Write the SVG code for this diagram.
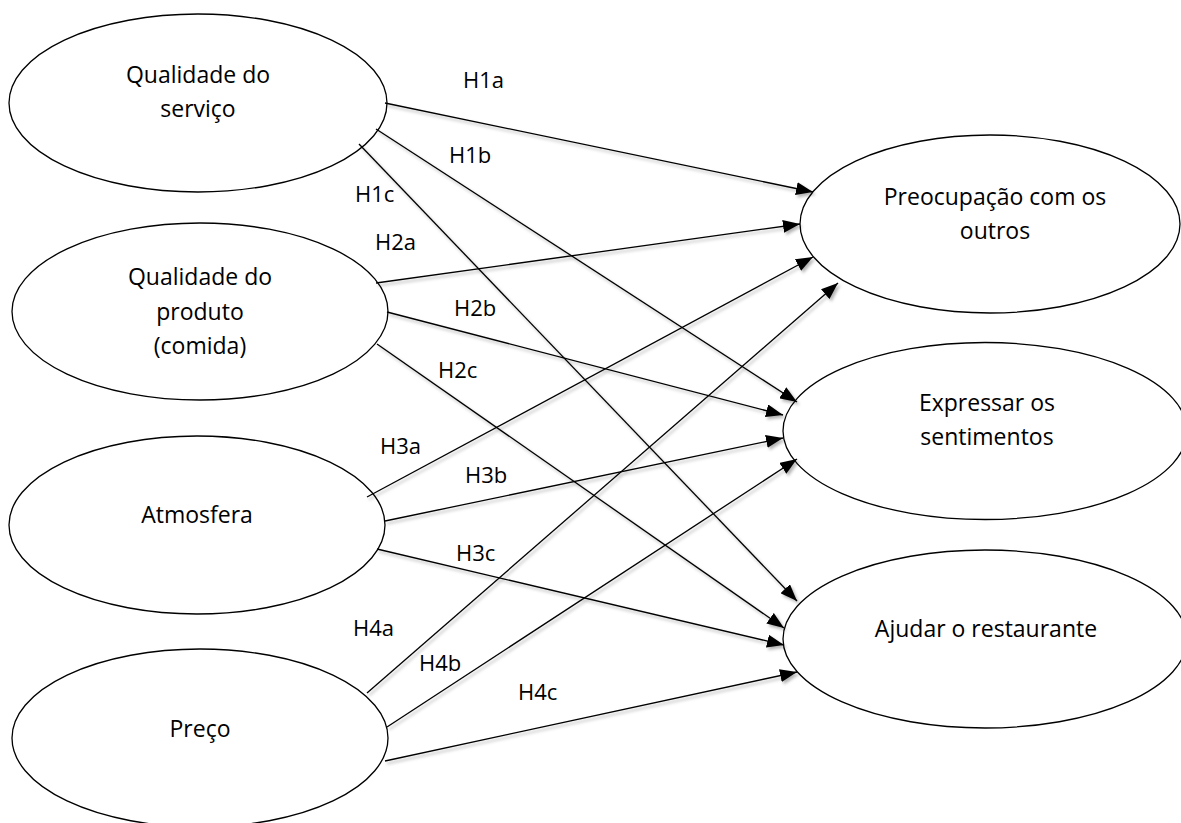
<svg xmlns="http://www.w3.org/2000/svg" width="1181" height="823" viewBox="0 0 1181 823">
<defs>
<marker id="arr" viewBox="0 0 17 13" refX="17" refY="6.5" markerWidth="17" markerHeight="13" markerUnits="userSpaceOnUse" orient="auto">
<path d="M0,0 L17,6.5 L0,13 z" fill="#000"/>
</marker>
<filter id="sh" x="-5%" y="-5%" width="110%" height="110%">
<feDropShadow dx="2" dy="2.5" stdDeviation="1.5" flood-color="#000" flood-opacity="0.3"/>
</filter>
</defs>
<style>
.n ellipse{fill:#fff;stroke:#000;stroke-width:1.3}
.t{font-family:"Open Sans","Liberation Sans",sans-serif;font-size:23px;fill:#000;text-anchor:middle}
.l{font-family:"Open Sans","Liberation Sans",sans-serif;font-size:22px;fill:#000}
.c line{stroke:#000;stroke-width:1.3;marker-end:url(#arr)}
</style>
<rect width="1181" height="823" fill="#fff"/>
<g id="n1" class="n"><ellipse cx="198" cy="103" rx="189" ry="89"/><text class="t" x="198" y="83">Qualidade do</text><text class="t" x="198" y="117">serviço</text></g>
<g id="n2" class="n"><ellipse cx="200" cy="311.5" rx="188" ry="88.5"/><text class="t" x="200" y="285">Qualidade do</text><text class="t" x="200" y="320">produto</text><text class="t" x="200" y="354">(comida)</text></g>
<g id="n3" class="n"><ellipse cx="197" cy="525" rx="188" ry="89"/><text class="t" x="197" y="523">Atmosfera</text></g>
<g id="n4" class="n"><ellipse cx="200" cy="738" rx="188" ry="89"/><text class="t" x="200" y="737">Preço</text></g>
<g id="n5" class="n"><ellipse cx="990" cy="224" rx="190" ry="89"/><text class="t" x="995" y="205">Preocupação com os</text><text class="t" x="995" y="239">outros</text></g>
<g id="n6" class="n"><ellipse cx="985" cy="431" rx="202" ry="88.5"/><text class="t" x="987" y="411">Expressar os</text><text class="t" x="987" y="445">sentimentos</text></g>
<g id="n7" class="n"><ellipse cx="985" cy="639" rx="202" ry="89"/><text class="t" x="986" y="637">Ajudar o restaurante</text></g>
<g id="connectors" class="c" filter="url(#sh)">
<line x1="385" y1="103" x2="813" y2="192"/>
<line x1="376" y1="129" x2="797" y2="402"/>
<line x1="359" y1="144" x2="797" y2="601"/>
<line x1="376" y1="283" x2="800" y2="224"/>
<line x1="387" y1="312" x2="783" y2="415"/>
<line x1="377" y1="344" x2="784" y2="628"/>
<line x1="367" y1="497" x2="813" y2="257"/>
<line x1="385" y1="521" x2="783" y2="438"/>
<line x1="377" y1="549" x2="784" y2="645"/>
<line x1="367" y1="693" x2="838" y2="283"/>
<line x1="387" y1="727" x2="797" y2="459"/>
<line x1="385" y1="761" x2="797" y2="672"/>
</g>
<g id="labels">
<text class="l" x="463" y="88">H1a</text>
<text class="l" x="449" y="163">H1b</text>
<text class="l" x="355" y="202">H1c</text>
<text class="l" x="375" y="250">H2a</text>
<text class="l" x="454" y="316">H2b</text>
<text class="l" x="438" y="378">H2c</text>
<text class="l" x="380" y="454">H3a</text>
<text class="l" x="465" y="483">H3b</text>
<text class="l" x="456" y="561">H3c</text>
<text class="l" x="353" y="636">H4a</text>
<text class="l" x="419" y="671">H4b</text>
<text class="l" x="518" y="700">H4c</text>
</g>
</svg>
